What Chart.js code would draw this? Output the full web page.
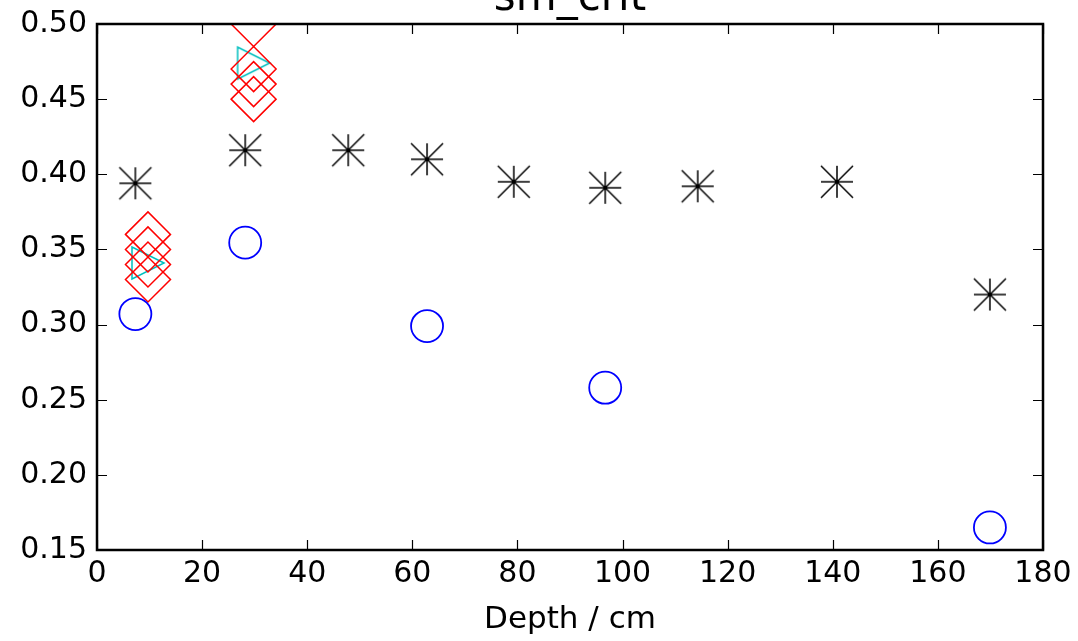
<!DOCTYPE html>
<html>
<head>
<meta charset="utf-8">
<script src="https://cdn.jsdelivr.net/npm/chart.js@4/dist/chart.umd.min.js"></script>
<style>
  html, body { margin: 0; padding: 0; background: #fff; }
  #chart { display: block; }
</style>
</head>
<body>
<canvas id="chart" width="1078" height="641"></canvas>
<script>
// values
const circleX = [7.3, 28.2, 62.8, 96.7, 169.9];
const circleY = [0.307, 0.3545, 0.299, 0.258, 0.165];

const starX = [7.3, 28.2, 47.8, 62.8, 79.3, 96.7, 114.3, 140.8, 169.9];
const starY = [0.394, 0.416, 0.416, 0.410, 0.395, 0.391, 0.392, 0.395, 0.320];

const diamondX = [9.7, 9.7, 9.7, 9.7, 29.8, 29.8, 29.8, 29.8];
const diamondY = [0.33, 0.34, 0.35, 0.36, 0.45, 0.46, 0.47, 0.50];

const triangleX = [9.7, 29.8];
const triangleY = [0.341, 0.474];

const xTicks = [0, 20, 40, 60, 80, 100, 120, 140, 160, 180];
const yTicks = [0.15, 0.20, 0.25, 0.30, 0.35, 0.40, 0.45, 0.50];

const toPoints = (xs, ys) => xs.map((x, i) => ({ x: x, y: ys[i] }));

// matplotlib-like markers drawn on small canvases
function asteriskMarker(r) {
  const c = document.createElement('canvas');
  c.width = c.height = 2 * r + 4;
  const g = c.getContext('2d');
  const m = r + 2;
  g.strokeStyle = '#000';
  g.lineWidth = 1.5;
  g.beginPath();
  g.moveTo(m, m - r); g.lineTo(m, m + r);
  g.moveTo(m - r, m); g.lineTo(m + r, m);
  g.moveTo(m - r, m - r); g.lineTo(m + r, m + r);
  g.moveTo(m - r, m + r); g.lineTo(m + r, m - r);
  g.stroke();
  return c;
}

function triangleRightMarker(r) {
  const c = document.createElement('canvas');
  c.width = c.height = 2 * r + 4;
  const g = c.getContext('2d');
  const m = r + 2;
  g.strokeStyle = '#00bfbf';
  g.lineWidth = 1.5;
  g.beginPath();
  g.moveTo(m + r, m);
  g.lineTo(m - r, m - r);
  g.lineTo(m - r, m + r);
  g.closePath();
  g.stroke();
  return c;
}

const frameAndTicks = {
  id: 'frameAndTicks',
  afterDatasetsDraw(chart) {
    const { ctx, chartArea: a, scales } = chart;
    const x = scales.x, y = scales.y;
    ctx.save();
    ctx.strokeStyle = '#000';
    ctx.lineWidth = 1.2;
    ctx.beginPath();
    xTicks.forEach(v => {
      const px = Math.round(x.getPixelForValue(v)) + 0.5;
      ctx.moveTo(px, a.bottom); ctx.lineTo(px, a.bottom - 10);
      ctx.moveTo(px, a.top); ctx.lineTo(px, a.top + 10);
    });
    yTicks.forEach(v => {
      const py = Math.round(y.getPixelForValue(v)) + 0.5;
      ctx.moveTo(a.left, py); ctx.lineTo(a.left + 10, py);
      ctx.moveTo(a.right, py); ctx.lineTo(a.right - 10, py);
    });
    ctx.stroke();
    ctx.lineWidth = 2.5;
    ctx.strokeRect(a.left, a.top, a.right - a.left, a.bottom - a.top);

    ctx.fillStyle = '#000';
    ctx.font = '42px "DejaVu Sans"';
    ctx.textAlign = 'center';
    ctx.textBaseline = 'alphabetic';
    ctx.fillText('sm_crit', (a.left + a.right) / 2, 10);
    ctx.restore();
  }
};

const tickFont = { family: 'DejaVu Sans', size: 30 };

new Chart(document.getElementById('chart'), {
  type: 'scatter',
  data: {
    datasets: [
      {
        label: 'circles',
        data: toPoints(circleX, circleY),
        pointStyle: 'circle',
        pointRadius: 16,
        pointHoverRadius: 16,
        borderColor: '#0000ff',
        backgroundColor: 'rgba(0,0,0,0)',
        pointBorderWidth: 1.8,
        clip: 0
      },
      {
        label: 'stars',
        data: toPoints(starX, starY),
        pointStyle: asteriskMarker(16),
        pointRadius: 16,
        borderColor: '#000',
        clip: 0
      },
      {
        label: 'diamonds',
        data: toPoints(diamondX, diamondY),
        pointStyle: 'rectRot',
        pointRadius: 22.5,
        pointHoverRadius: 22.5,
        borderColor: '#ff0000',
        backgroundColor: 'rgba(0,0,0,0)',
        pointBorderWidth: 1.5,
        clip: 0
      },
      {
        label: 'triangles',
        data: toPoints(triangleX, triangleY),
        pointStyle: triangleRightMarker(16),
        pointRadius: 16,
        borderColor: '#00bfbf',
        clip: 0
      }
    ]
  },
  options: {
    responsive: false,
    animation: false,
    events: [],
    layout: { padding: { top: 23, right: 35, bottom: 0, left: 0 } },
    plugins: {
      legend: { display: false },
      tooltip: { enabled: false }
    },
    scales: {
      x: {
        type: 'linear',
        min: 0,
        max: 180,
        afterFit: s => { s.height = 91; s.paddingLeft = 0; s.paddingRight = 0; },
        afterBuildTicks: s => { s.ticks = xTicks.map(v => ({ value: v })); },
        grid: { display: false, drawTicks: false },
        border: { display: false },
        ticks: { font: tickFont, color: '#000', padding: 6, maxRotation: 0 },
        title: {
          display: true,
          text: 'Depth / cm',
          font: { family: 'DejaVu Sans', size: 31 },
          color: '#000',
          padding: { top: 0, bottom: 2 }
        }
      },
      y: {
        type: 'linear',
        min: 0.15,
        max: 0.50,
        afterFit: s => { s.width = 97; s.paddingTop = 0; s.paddingBottom = 0; },
        afterBuildTicks: s => { s.ticks = yTicks.map(v => ({ value: v })); },
        grid: { display: false, drawTicks: false },
        border: { display: false },
        ticks: {
          font: tickFont,
          color: '#000',
          padding: 10,
          callback: v => Number(v).toFixed(2)
        }
      }
    }
  },
  plugins: [frameAndTicks]
});
</script>
</body>
</html>
